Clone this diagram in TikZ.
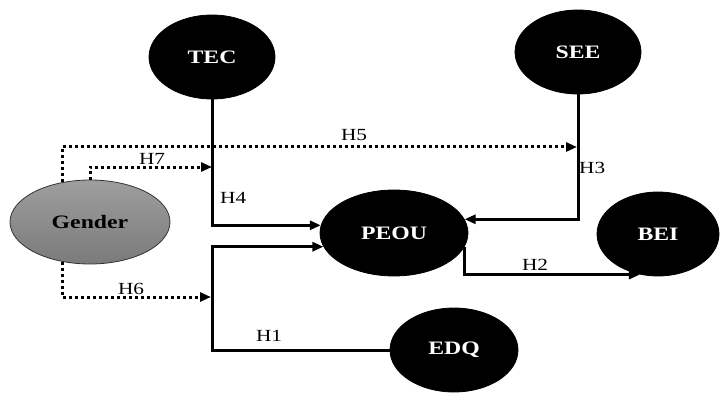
\documentclass[tikz,border=0pt]{standalone}
\usepackage{fontspec}
\setmainfont{Liberation Serif}[FakeStretch=1.25]
\usetikzlibrary{shapes.geometric,arrows.meta}
\begin{document}
\begin{tikzpicture}[x=1pt,y=-1pt,
  construct/.style={ellipse,fill=black,draw=black,line width=0.8pt,inner sep=0pt,text=white,font=\fontsize{19}{22}\selectfont\bfseries},
  gendernode/.style={ellipse,draw=black!80,line width=0.8pt,top color=black!38,bottom color=black!52,inner sep=0pt,font=\fontsize{19}{22}\selectfont\bfseries},
  link/.style={line width=3pt,-{Triangle[length=11pt,width=9pt]}},
  dotlink/.style={line width=3pt,dash pattern=on 3pt off 3pt,-{Triangle[length=11pt,width=9pt]}},
  hlabel/.style={font=\fontsize{17}{19}\selectfont,inner sep=0pt}]
\useasboundingbox (0,0) rectangle (720,393);
\node[construct,minimum width=126pt,minimum height=84pt] (TEC) at (212,57) {TEC};
\node[construct,minimum width=126pt,minimum height=84pt] (SEE) at (578,52) {SEE};
\node[construct,minimum width=148pt,minimum height=86pt] (PEOU) at (394,233) {PEOU};
\node[construct,minimum width=122pt,minimum height=84pt] (BEI) at (658,234) {BEI};
\node[construct,minimum width=128pt,minimum height=84pt] (EDQ) at (454,350) {EDQ};
\node[gendernode,minimum width=160pt,minimum height=84pt] (Gender) at (90,222) {Gender};
\coordinate (h5end) at (577,147);
\coordinate (h7end) at (212,167);
\coordinate (h6end) at (211,297);
\coordinate (h1bend) at (212,350);
% solid paths
\draw[link] (TEC.south) |- (PEOU.174);
\draw[link] (SEE.south) |- (PEOU.11);
\draw[link] (EDQ.west) -- (h1bend) |- (PEOU.191);
\draw[link] (PEOU.349) |- (BEI.246);
% dotted paths
\draw[dotlink] (Gender.125) |- (h5end);
\draw[dotlink] (Gender.north) |- (h7end);
\draw[dotlink] (Gender.235) |- (h6end);
% labels
\node[hlabel,anchor=west] (lH4) at (220,198) {H4};
\node[hlabel] (lH5) at (354,135) {H5};
\node[hlabel] (lH7) at (152,159) {H7};
\node[hlabel] (lH6) at (131,289) {H6};
\node[hlabel] (lH1) at (269,336) {H1};
\node[hlabel] (lH2) at (535,265) {H2};
\node[hlabel,anchor=west] (lH3) at (579,168) {H3};
\end{tikzpicture}
\end{document}
